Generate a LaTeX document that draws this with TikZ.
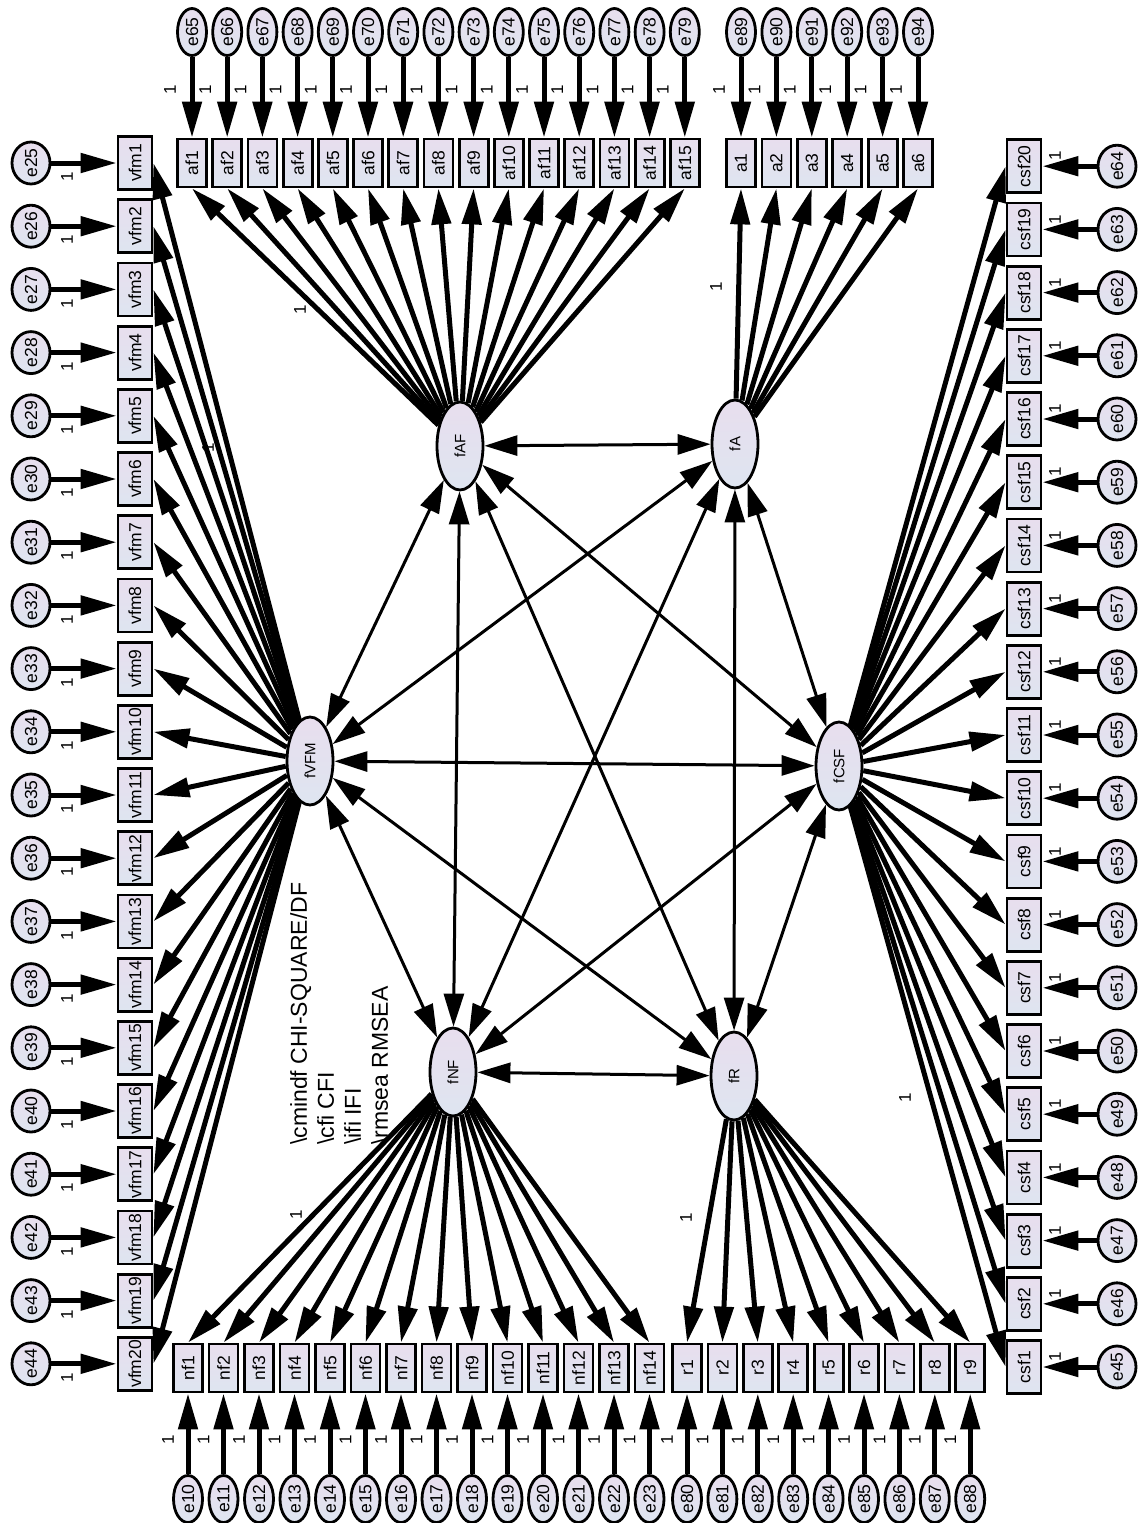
\documentclass[tikz,border=0pt]{standalone}
\usepackage{fontspec}
\setmainfont{Liberation Sans}
\usepackage{graphicx}
\usetikzlibrary{arrows.meta, shapes.geometric}

\definecolor{amostop}{RGB}{232,222,238}
\definecolor{amosbot}{RGB}{222,229,240}
\newcommand{\rt}[1]{\rotatebox{90}{#1}}

\begin{document}
\begin{tikzpicture}[x=1pt, y=-1pt,
    obs/.style={rectangle, draw=black, line width=2.8pt, top color=amostop, bottom color=amosbot, inner sep=0pt, font=\fontsize{17.5}{19}\selectfont},
    obsv/.style={obs, minimum width=34pt, minimum height=53pt},
    obsh/.style={obs, minimum width=29pt, minimum height=48pt},
    err/.style={ellipse, draw=black, line width=2.8pt, top color=amostop, bottom color=amosbot, inner sep=0pt, font=\fontsize{17.5}{19}\selectfont},
    errtb/.style={err, minimum width=29pt, minimum height=47pt},
    errlr/.style={err, minimum width=38pt, minimum height=42pt},
    lat/.style={ellipse, draw=black, line width=2.8pt, top color=amostop, bottom color=amosbot, inner sep=0pt, minimum width=46pt, minimum height=88pt, font=\fontsize{15}{17}\selectfont},
    load/.style={draw, line width=5pt, -{Triangle[length=36pt, width=19pt]}},
    resid/.style={draw, line width=5pt, -{Triangle[length=36pt, width=19pt]}},
    cov/.style={draw, line width=3pt, {Triangle[length=33pt, width=20pt]}-{Triangle[length=33pt, width=20pt]}},
    one/.style={font=\fontsize{17}{19}\selectfont, inner sep=0pt, rotate=90}
]
    \useasboundingbox (0,0) rectangle (1141,1523);

    % Latent factors ===========================
    \node[lat] (fAF) at (460,446) {\rt{fAF}};
    \node[lat] (fA) at (735,444) {\rt{fA}};
    \node[lat] (fVFM) at (310,761) {\rt{fVFM}};
    \node[lat] (fCSF) at (839,766) {\rt{fCSF}};
    \node[lat] (fNF) at (453,1072) {\rt{fNF}};
    \node[lat] (fR) at (734,1076) {\rt{fR}};

    % VFM items (left) ===========================
    \foreach \i [evaluate=\i as \yy using 163+(\i-1)*63.2, evaluate=\i as \en using int(24+\i)] in {1,...,20} {
        \node[obsv] (vfm\i) at (135,\yy) {\rt{vfm\i}};
        \node[errlr] (e\en) at (31,\yy) {\rt{e\en}};
        \draw[resid] (e\en) -- (vfm\i);
        \node[one] at (67,\yy+14) {1};
    }

    % CSF items (right) ===========================
    \foreach \i [evaluate=\i as \yy using 1367-(\i-1)*63.2, evaluate=\i as \en using int(44+\i)] in {1,...,20} {
        \node[obsv] (csf\i) at (1024,\yy) {\rt{csf\i}};
        \node[errlr] (e\en) at (1117,\yy) {\rt{e\en}};
        \draw[resid] (e\en) -- (csf\i);
        \node[one] at (1055,\yy-10) {1};
    }

    % AF and A items (top) ===========================
    \foreach \i [evaluate=\i as \xx using 192+(\i-1)*35.2, evaluate=\i as \en using int(64+\i)] in {1,...,15} {
        \node[obsh] (af\i) at (\xx,163) {\rt{af\i}};
        \node[errtb] (e\en) at (\xx,32) {\rt{e\en}};
        \draw[resid] (e\en) -- (af\i);
        \node[one] at (\xx-22,90) {1};
    }
    \foreach \i [evaluate=\i as \xx using 741+(\i-1)*35.4, evaluate=\i as \en using int(88+\i)] in {1,...,6} {
        \node[obsh] (a\i) at (\xx,163) {\rt{a\i}};
        \node[errtb] (e\en) at (\xx,32) {\rt{e\en}};
        \draw[resid] (e\en) -- (a\i);
        \node[one] at (\xx-22,90) {1};
    }

    % NF and R items (bottom) ===========================
    \foreach \i [evaluate=\i as \xx using 188+(\i-1)*35.5, evaluate=\i as \en using int(9+\i)] in {1,...,14} {
        \node[obsh] (nf\i) at (\xx,1368) {\rt{nf\i}};
        \node[errtb] (e\en) at (\xx,1499) {\rt{e\en}};
        \draw[resid] (e\en) -- (nf\i);
        \node[one] at (\xx-20,1440) {1};
    }
    \foreach \i [evaluate=\i as \xx using 687+(\i-1)*35.4, evaluate=\i as \en using int(79+\i)] in {1,...,9} {
        \node[obsh] (r\i) at (\xx,1368) {\rt{r\i}};
        \node[errtb] (e\en) at (\xx,1499) {\rt{e\en}};
        \draw[resid] (e\en) -- (r\i);
        \node[one] at (\xx-20,1440) {1};
    }

    % Loadings ===========================
    \foreach \i in {1,...,20} \draw[load] (fVFM) -- (vfm\i.east);
    \foreach \i in {1,...,20} \draw[load] (fCSF) -- (csf\i.west);
    \foreach \i in {1,...,15} \draw[load] (fAF) -- (af\i.south);
    \foreach \i in {1,...,6} \draw[load] (fA) -- (a\i.south);
    \foreach \i in {1,...,14} \draw[load] (fNF) -- (nf\i.north);
    \foreach \i in {1,...,9} \draw[load] (fR) -- (r\i.north);

    % Fixed loadings
    \foreach \p in {(300,310), (208,448), (716,287), (296,1215), (686,1218), (905,1098)}
        \node[one] at \p {1};

    % Covariances ===========================
    \draw[cov] (fAF) -- (fA);
    \draw[cov] (fAF) -- (fVFM);
    \draw[cov] (fAF) -- (fNF);
    \draw[cov] (fAF) -- (fR);
    \draw[cov] (fAF) -- (fCSF);
    \draw[cov] (fA) -- (fVFM);
    \draw[cov] (fA) -- (fNF);
    \draw[cov] (fA) -- (fR);
    \draw[cov] (fA) -- (fCSF);
    \draw[cov] (fVFM) -- (fCSF);
    \draw[cov] (fVFM) -- (fNF);
    \draw[cov] (fVFM) -- (fR);
    \draw[cov] (fCSF) -- (fNF);
    \draw[cov] (fCSF) -- (fR);
    \draw[cov] (fNF) -- (fR);

    % Fit indices
    \node[rotate=90, anchor=north west, align=left, inner sep=0pt, font=\fontsize{23}{27}\selectfont] (fitidx) at (290,1145)
        {\textbackslash cmindf CHI-SQUARE/DF\\ \textbackslash cfi CFI\\ \textbackslash ifi IFI\\ \textbackslash rmsea RMSEA};

\end{tikzpicture}
\end{document}
